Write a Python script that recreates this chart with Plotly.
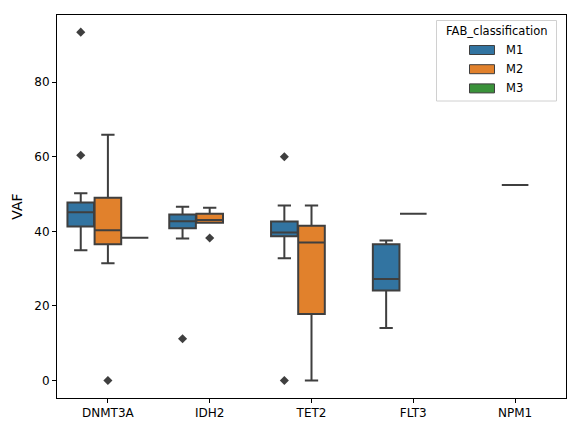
import plotly.graph_objects as go

genes = ["DNMT3A", "IDH2", "TET2", "FLT3", "NPM1"]
hues = ["M1", "M2", "M3"]
colors = {"M1": "#3274a1", "M2": "#e1812c", "M3": "#3a923a"}

# M1 box stats
m1_genes = ["DNMT3A", "IDH2", "TET2", "FLT3"]
m1_low = [34.9, 38.1, 32.8, 14.1]
m1_q1 = [41.3, 40.8, 38.7, 24.1]
m1_med = [45.1, 42.7, 39.7, 27.2]
m1_q3 = [47.7, 44.5, 42.6, 36.5]
m1_high = [50.2, 46.6, 46.9, 37.5]
m1_out_genes = ["DNMT3A", "DNMT3A", "IDH2", "TET2", "TET2"]
m1_out_vals = [93.4, 60.4, 11.2, 60.0, 0.0]

# M2 box stats
m2_genes = ["DNMT3A", "IDH2", "TET2", "FLT3", "NPM1"]
m2_low = [31.4, 42.3, 0.0, 44.7, 52.4]
m2_q1 = [36.5, 42.3, 17.8, 44.7, 52.4]
m2_med = [40.3, 43.0, 37.0, 44.7, 52.4]
m2_q3 = [49.0, 44.7, 41.5, 44.7, 52.4]
m2_high = [65.9, 46.3, 46.9, 44.7, 52.4]
m2_out_genes = ["DNMT3A", "IDH2"]
m2_out_vals = [0.0, 38.2]

# M3 box stats
m3_genes = ["DNMT3A"]
m3_low = [38.3]
m3_q1 = [38.3]
m3_med = [38.3]
m3_q3 = [38.3]
m3_high = [38.3]
m3_out_genes = []
m3_out_vals = []

series = {
    "M1": (m1_genes, m1_low, m1_q1, m1_med, m1_q3, m1_high, m1_out_genes, m1_out_vals),
    "M2": (m2_genes, m2_low, m2_q1, m2_med, m2_q3, m2_high, m2_out_genes, m2_out_vals),
    "M3": (m3_genes, m3_low, m3_q1, m3_med, m3_q3, m3_high, m3_out_genes, m3_out_vals),
}

LINE = "#3f3f3f"
group_w = 0.8
n_h = len(hues)
box_w = group_w / n_h * 0.98


def pos(gene, hue):
    return genes.index(gene) + (hues.index(hue) - (n_h - 1) / 2) * group_w / n_h


fig = go.Figure()
for h in hues:
    g, lo, q1, med, q3, hi, og, ov = series[h]
    fig.add_trace(go.Box(
        name=h,
        x=[pos(gg, h) for gg in g],
        lowerfence=lo, q1=q1, median=med, q3=q3, upperfence=hi,
        width=box_w,
        whiskerwidth=0.5,
        fillcolor=colors[h],
        line=dict(color=LINE, width=2),
        boxpoints=False,
        showlegend=False,
    ))
for h in hues:
    g, lo, q1, med, q3, hi, og, ov = series[h]
    if og:
        fig.add_trace(go.Scatter(
            x=[pos(gg, h) for gg in og], y=ov, mode="markers",
            marker=dict(symbol="diamond", size=7, color=LINE),
            showlegend=False, hoverinfo="skip",
        ))

# Custom matplotlib-like legend (pixel layout converted to paper coords)
L, R, T, B = 57, 566, 15, 398
W, H = R - L, B - T


def px(x):
    return (x - L) / W


def py(y):
    return (B - y) / H


shapes = [dict(type="rect", xref="paper", yref="paper",
               x0=px(436.5), x1=px(556.5), y0=py(101), y1=py(20.5),
               line=dict(color="#d0d0d0", width=1), fillcolor="rgba(255,255,255,0.8)",
               layer="above")]
annotations = [dict(text="FAB_classification", xref="paper", yref="paper",
                    x=px(496.5), y=py(31), xanchor="center", yanchor="middle",
                    showarrow=False, font=dict(size=11.5))]
for i, h in enumerate(hues):
    yc = 50 + i * 19.2
    shapes.append(dict(type="rect", xref="paper", yref="paper",
                       x0=px(469.5), x1=px(494.5), y0=py(yc + 4.5), y1=py(yc - 4.5),
                       line=dict(color=LINE, width=1), fillcolor=colors[h], layer="above"))
    annotations.append(dict(text=h, xref="paper", yref="paper",
                            x=px(504), y=py(yc), xanchor="left", yanchor="middle",
                            showarrow=False, font=dict(size=11.5)))

fig.update_layout(
    width=576, height=432,
    margin=dict(l=L, r=576 - R, t=T, b=432 - B),
    paper_bgcolor="white", plot_bgcolor="white",
    font=dict(family="DejaVu Sans", size=12, color="black"),
    shapes=shapes, annotations=annotations,
    showlegend=False,
)
fig.update_xaxes(
    range=[-0.5, len(genes) - 0.5],
    tickmode="array", tickvals=list(range(len(genes))), ticktext=genes,
    showline=True, mirror=True, linecolor="black", linewidth=1,
    ticks="outside", ticklen=4, tickcolor="black",
    showgrid=False, zeroline=False,
)
fig.update_yaxes(
    range=[-4.7, 98.0],
    tickmode="array", tickvals=[0, 20, 40, 60, 80],
    title=dict(text="VAF", standoff=8),
    showline=True, mirror=True, linecolor="black", linewidth=1,
    ticks="outside", ticklen=4, tickcolor="black",
    showgrid=False, zeroline=False,
)

fig.write_html("out.html")
